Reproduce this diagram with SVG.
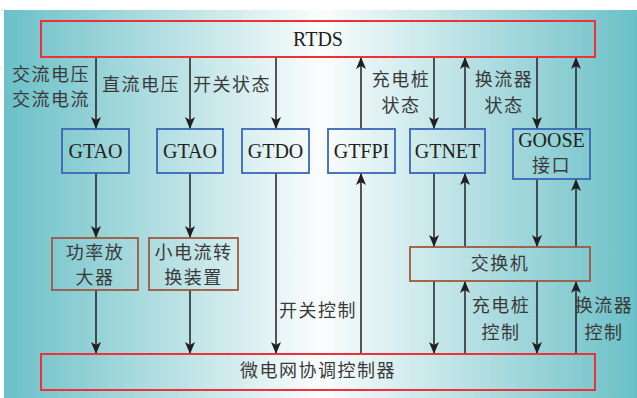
<svg xmlns="http://www.w3.org/2000/svg" width="637" height="398" viewBox="0 0 637 398">
<defs>
<linearGradient id="bg" x1="0" y1="0" x2="1" y2="0">
<stop offset="0" stop-color="#6bc0c7"/>
<stop offset="0.5" stop-color="#fbfdfd"/>
<stop offset="1" stop-color="#6bc0c7"/>
</linearGradient>
<marker id="a" viewBox="-6 -5 12 10" refX="6" refY="0" markerWidth="12" markerHeight="10" markerUnits="userSpaceOnUse" orient="auto">
<path d="M-6,-5 L6,0 L-6,5 L-3,0 Z" fill="#231f20"/>
</marker>
<style>
.red{fill:none;stroke:#ee3038;stroke-width:2}
.blue{fill:none;stroke:#3a66b6;stroke-width:1.8}
.brown{fill:none;stroke:#9c5a3e;stroke-width:1.8}
.ln{stroke:#231f20;stroke-width:1.5;fill:none;marker-end:url(#a)}
.en{font-family:"Liberation Serif",serif;font-size:20px;fill:#231f20;text-anchor:middle}
.zh{font-family:"Noto Sans CJK SC",sans-serif;font-size:18px;fill:#3a3a3a;text-anchor:middle;letter-spacing:1.5px}
.zl{font-family:"Noto Sans CJK SC",sans-serif;font-size:18px;fill:#3a3a3a;text-anchor:start;letter-spacing:1.5px}
</style>
</defs>
<rect x="4" y="10" width="633" height="388" fill="url(#bg)"/>

<g id="connectors">
<line class="ln" x1="96" y1="57" x2="96" y2="129"/>
<line class="ln" x1="96" y1="173" x2="96" y2="238"/>
<line class="ln" x1="96" y1="290" x2="96" y2="354"/>
<line class="ln" x1="190" y1="57" x2="190" y2="129"/>
<line class="ln" x1="190" y1="173" x2="190" y2="238"/>
<line class="ln" x1="190" y1="290" x2="190" y2="354"/>
<line class="ln" x1="276" y1="57" x2="276" y2="129"/>
<line class="ln" x1="276" y1="173" x2="276" y2="354"/>
<line class="ln" x1="361" y1="354" x2="361" y2="173"/>
<line class="ln" x1="361" y1="129" x2="361" y2="57"/>
<line class="ln" x1="434" y1="57" x2="434" y2="129"/>
<line class="ln" x1="465" y1="129" x2="465" y2="57"/>
<line class="ln" x1="434" y1="173" x2="434" y2="247"/>
<line class="ln" x1="465" y1="247" x2="465" y2="173"/>
<line class="ln" x1="434" y1="281" x2="434" y2="354"/>
<line class="ln" x1="465" y1="354" x2="465" y2="281"/>
<line class="ln" x1="537" y1="57" x2="537" y2="129"/>
<line class="ln" x1="576" y1="129" x2="576" y2="57"/>
<line class="ln" x1="537" y1="179" x2="537" y2="247"/>
<line class="ln" x1="576" y1="247" x2="576" y2="179"/>
<line class="ln" x1="537" y1="281" x2="537" y2="354"/>
<line class="ln" x1="576" y1="354" x2="576" y2="281"/>
</g>

<g id="labels">
<text class="zl" x="12" y="81">交流电压</text>
<text class="zl" x="12" y="106">交流电流</text>
<text class="zl" x="102" y="91">直流电压</text>
<text class="zl" x="193" y="91">开关状态</text>
<text class="zh" x="401" y="86">充电桩</text>
<text class="zh" x="401" y="112">状态</text>
<text class="zh" x="504" y="86">换流器</text>
<text class="zh" x="504" y="112">状态</text>
<text class="zl" x="279" y="317">开关控制</text>
<text class="zh" x="501" y="312">充电桩</text>
<text class="zh" x="501" y="339">控制</text>
<text class="zh" x="604" y="312">换流器</text>
<text class="zh" x="604" y="339">控制</text>
</g>

<g id="rtds">
<rect class="red" x="41" y="21" width="554" height="36"/>
<text class="en" x="318" y="46">RTDS</text>
</g>
<g id="gtao1">
<rect class="blue" x="62" y="129" width="67" height="44"/>
<text class="en" x="95.5" y="158">GTAO</text>
</g>
<g id="gtao2">
<rect class="blue" x="157" y="129" width="66" height="44"/>
<text class="en" x="190" y="158">GTAO</text>
</g>
<g id="gtdo">
<rect class="blue" x="242" y="129" width="67" height="44"/>
<text class="en" x="275.5" y="158">GTDO</text>
</g>
<g id="gtfpi">
<rect class="blue" x="328" y="129" width="67" height="44"/>
<text class="en" x="361.5" y="158">GTFPI</text>
</g>
<g id="gtnet">
<rect class="blue" x="410" y="129" width="75" height="44"/>
<text class="en" x="447.5" y="158">GTNET</text>
</g>
<g id="goose">
<rect class="blue" x="513" y="129" width="77" height="50"/>
<text class="en" x="551.5" y="147">GOOSE</text>
<text class="zh" x="551.5" y="172">接口</text>
</g>
<g id="amp">
<rect class="brown" x="52" y="238" width="86" height="52"/>
<text class="zh" x="95" y="259">功率放</text>
<text class="zh" x="95" y="284">大器</text>
</g>
<g id="conv">
<rect class="brown" x="149" y="238" width="89" height="52"/>
<text class="zh" x="193.5" y="259">小电流转</text>
<text class="zh" x="193.5" y="284">换装置</text>
</g>
<g id="switch">
<rect class="brown" x="410" y="247" width="180" height="34"/>
<text class="zh" x="500" y="270">交换机</text>
</g>
<g id="mgcc">
<rect class="red" x="41" y="354" width="554" height="36"/>
<text class="zh" x="318" y="377">微电网协调控制器</text>
</g>
</svg>
